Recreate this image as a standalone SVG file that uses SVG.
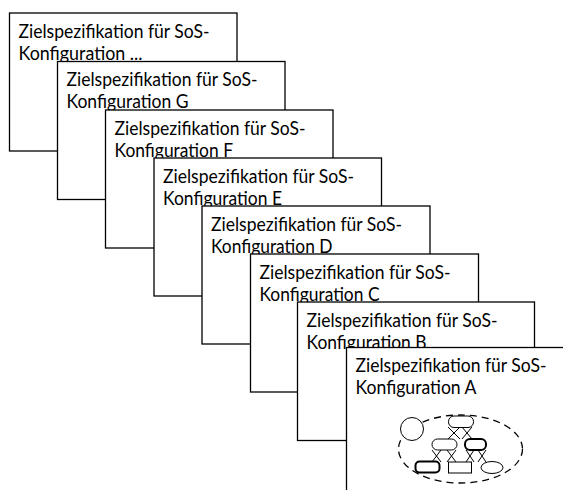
<svg xmlns="http://www.w3.org/2000/svg" width="563" height="490" viewBox="0 0 563 490">
  <style>
    .card { fill: #ffffff; stroke: #000000; stroke-width: 1.3; }
    .lbl { font-family: Lato, "Open Sans", "Liberation Sans", sans-serif; font-size: 18.5px; fill: #000000; }
    .n { fill: #ffffff; stroke: #000000; stroke-width: 1; }
    .nb { fill: #ffffff; stroke: #000000; stroke-width: 2; }
    .edge { stroke: #000000; stroke-width: 1; fill: none; }
    .scope { fill: none; stroke: #000000; stroke-width: 1.3; stroke-dasharray: 7 5; }
  </style>
  <rect width="563" height="490" fill="#ffffff"/>

  <!-- Stacked configuration sheets, back to front -->
  <g id="card-etc">
    <rect class="card" x="9.5" y="13" width="227.5" height="138"/>
    <text class="lbl" x="18.5" y="37.5" textLength="191" lengthAdjust="spacingAndGlyphs">Zielspezifikation für SoS-</text>
    <text class="lbl" x="18.5" y="59.5" textLength="124" lengthAdjust="spacingAndGlyphs">Konfiguration ...</text>
  </g>
  <g id="card-g">
    <rect class="card" x="57.5" y="61.5" width="227.5" height="138"/>
    <text class="lbl" x="66.5" y="86" textLength="191" lengthAdjust="spacingAndGlyphs">Zielspezifikation für SoS-</text>
    <text class="lbl" x="66.5" y="108" textLength="122" lengthAdjust="spacingAndGlyphs">Konfiguration G</text>
  </g>
  <g id="card-f">
    <rect class="card" x="105.5" y="110" width="227.5" height="138"/>
    <text class="lbl" x="114.5" y="134.5" textLength="191" lengthAdjust="spacingAndGlyphs">Zielspezifikation für SoS-</text>
    <text class="lbl" x="114.5" y="156.5" textLength="118.5" lengthAdjust="spacingAndGlyphs">Konfiguration F</text>
  </g>
  <g id="card-e">
    <rect class="card" x="154" y="158" width="227.5" height="138"/>
    <text class="lbl" x="163" y="182.5" textLength="191" lengthAdjust="spacingAndGlyphs">Zielspezifikation für SoS-</text>
    <text class="lbl" x="163" y="204.5" textLength="119" lengthAdjust="spacingAndGlyphs">Konfiguration E</text>
  </g>
  <g id="card-d">
    <rect class="card" x="202" y="206" width="228" height="138"/>
    <text class="lbl" x="211" y="230.5" textLength="191" lengthAdjust="spacingAndGlyphs">Zielspezifikation für SoS-</text>
    <text class="lbl" x="211" y="252.5" textLength="121.5" lengthAdjust="spacingAndGlyphs">Konfiguration D</text>
  </g>
  <g id="card-c">
    <rect class="card" x="250.5" y="254" width="228" height="138"/>
    <text class="lbl" x="259.5" y="278.5" textLength="191" lengthAdjust="spacingAndGlyphs">Zielspezifikation für SoS-</text>
    <text class="lbl" x="259.5" y="300.5" textLength="120" lengthAdjust="spacingAndGlyphs">Konfiguration C</text>
  </g>
  <g id="card-b">
    <rect class="card" x="297.5" y="302" width="237" height="138.5"/>
    <text class="lbl" x="306.5" y="326.5" textLength="191" lengthAdjust="spacingAndGlyphs">Zielspezifikation für SoS-</text>
    <text class="lbl" x="306.5" y="348.5" textLength="120" lengthAdjust="spacingAndGlyphs">Konfiguration B</text>
  </g>
  <g id="card-a">
    <rect class="card" x="346.5" y="347.5" width="240" height="160"/>
    <text class="lbl" x="355.5" y="372" textLength="191" lengthAdjust="spacingAndGlyphs">Zielspezifikation für SoS-</text>
    <text class="lbl" x="355.5" y="394" textLength="121" lengthAdjust="spacingAndGlyphs">Konfiguration A</text>
  </g>

  <!-- Miniature structure inside sheet A -->
  <g id="mini-scope">
    <ellipse class="scope" cx="460.5" cy="449" rx="62" ry="34"/>
  </g>
  <g id="mini-outside">
    <circle class="n" cx="412" cy="429" r="11.5"/>
  </g>
  <g id="mini-connectors">
    <line class="edge" x1="460" y1="427" x2="448" y2="439"/>
    <line class="edge" x1="448" y1="427" x2="460" y2="439"/>
    <line class="edge" x1="462" y1="427" x2="472" y2="439"/>
    <line class="edge" x1="472" y1="427" x2="462" y2="439"/>
    <line class="edge" x1="441" y1="450" x2="432" y2="462"/>
    <line class="edge" x1="432" y1="450" x2="441" y2="462"/>
    <line class="edge" x1="447" y1="450" x2="456" y2="462"/>
    <line class="edge" x1="456" y1="450" x2="447" y2="462"/>
    <line class="edge" x1="474" y1="450" x2="466" y2="462"/>
    <line class="edge" x1="466" y1="450" x2="474" y2="462"/>
    <line class="edge" x1="478" y1="450" x2="486" y2="462"/>
    <line class="edge" x1="486" y1="450" x2="478" y2="462"/>
  </g>
  <g id="mini-top">
    <rect class="n" x="448.5" y="416" width="25" height="11.5" rx="5.5"/>
  </g>
  <g id="mini-mid-left">
    <rect class="n" x="432" y="439" width="25" height="11" rx="5.5"/>
  </g>
  <g id="mini-mid-right">
    <rect class="nb" x="465" y="439" width="21" height="11" rx="5"/>
  </g>
  <g id="mini-bottom-left">
    <rect class="nb" x="415.5" y="461.5" width="24" height="11" rx="4"/>
  </g>
  <g id="mini-bottom-mid">
    <rect class="n" x="448.5" y="462" width="23" height="11"/>
  </g>
  <g id="mini-bottom-right">
    <ellipse class="n" cx="492" cy="467.5" rx="11" ry="6"/>
  </g>
</svg>
